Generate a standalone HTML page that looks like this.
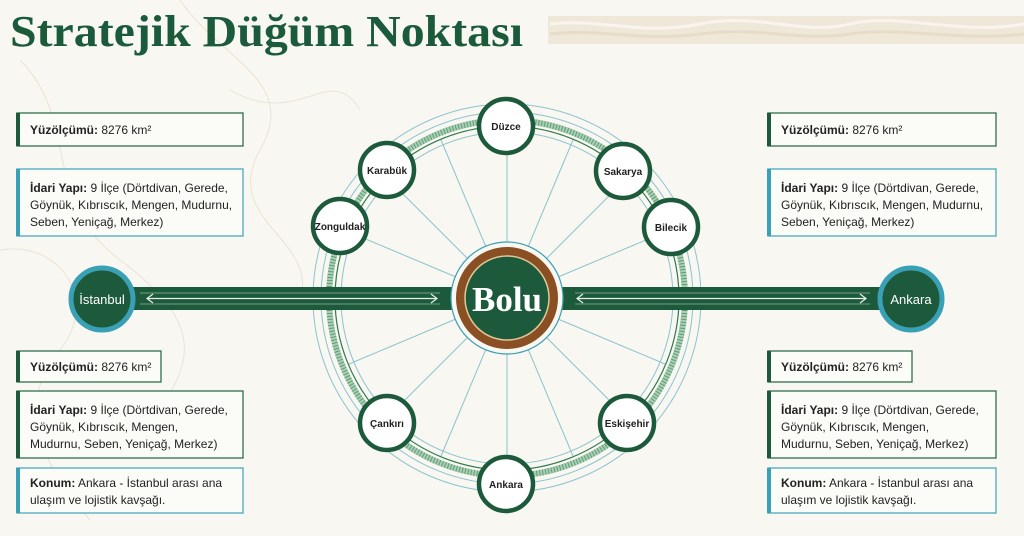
<!DOCTYPE html>
<html><head><meta charset="utf-8"><style>
html,body{margin:0;padding:0;background:#f8f7f1;}
svg{display:block}
.b{font-family:"Liberation Sans",sans-serif;font-size:12px;fill:#222}
.n{font-family:"Liberation Sans",sans-serif;font-size:10px;font-weight:bold;fill:#222;text-anchor:middle}
</style></head><body>
<svg width="1024" height="536" viewBox="0 0 1024 536">
<rect width="1024" height="536" fill="#f8f7f1"/>
<g fill="none" stroke="#ece3d2" stroke-width="1">
<path d="M20 60 C80 120 40 200 120 260 S200 360 150 420"/>
<path d="M180 0 C220 60 300 80 260 150 S320 240 300 300"/>
<path d="M0 250 C60 240 100 300 60 350 S30 450 90 520"/>
<path d="M230 90 C300 130 330 60 360 110"/>
</g>
<rect x="548" y="16" width="476" height="28" fill="#efe8d9"/>
<path d="M550 24 C600 18 640 36 700 24 S800 36 850 24 S960 36 1024 24" stroke="#f8f5ee" stroke-width="3" fill="none"/>
<path d="M550 34 C600 28 640 42 700 34 S800 42 850 34 S960 42 1024 34" stroke="#e6dcc8" stroke-width="3" fill="none"/>
<text x="10" y="46" font-family="Liberation Serif,serif" font-weight="bold" font-size="44" fill="#1b5a3a" textLength="513" lengthAdjust="spacingAndGlyphs">Stratejik Düğüm Noktası</text>

<g fill="none">
<circle cx="507" cy="298" r="194" stroke="#8cc3cf" stroke-width="1"/>
<circle cx="507" cy="298" r="186" stroke="#8cc3cf" stroke-width="1"/>
<circle cx="507" cy="298" r="178" stroke="#a9cfb4" stroke-width="6"/>
<circle cx="507" cy="298" r="178" stroke="#2f7a4f" stroke-width="6" stroke-dasharray="1 2" opacity=".6"/>
<circle cx="507" cy="298" r="172" stroke="#2f7a4f" stroke-width="1.2"/>
<circle cx="507" cy="298" r="166" stroke="#8cc3cf" stroke-width="1"/>
</g>
<g stroke="#8cc3cf" stroke-width="1">
<line x1="507" y1="243" x2="507" y2="132"/><line x1="507" y1="353" x2="507" y2="464"/>
<line x1="528" y1="247" x2="573" y2="140"/><line x1="486" y1="247" x2="441" y2="140"/>
<line x1="528" y1="349" x2="573" y2="456"/><line x1="486" y1="349" x2="441" y2="456"/>
<line x1="546" y1="259" x2="630" y2="175"/><line x1="468" y1="259" x2="384" y2="175"/>
<line x1="546" y1="337" x2="630" y2="421"/><line x1="468" y1="337" x2="384" y2="421"/>
<line x1="558" y1="277" x2="665" y2="232"/><line x1="456" y1="277" x2="349" y2="232"/>
<line x1="558" y1="319" x2="665" y2="364"/><line x1="456" y1="319" x2="349" y2="364"/>
</g>

<rect x="130" y="287" width="332" height="23" fill="#1d5a3c"/>
<rect x="552" y="287" width="330" height="23" fill="#1d5a3c"/>
<g stroke="#8fb79f" stroke-width=".8" fill="none">
<line x1="140" y1="293" x2="440" y2="293"/><line x1="140" y1="304" x2="440" y2="304"/>
<line x1="575" y1="293" x2="870" y2="293"/><line x1="575" y1="304" x2="870" y2="304"/>
</g>
<g stroke="#e6efe8" stroke-width="1.2" fill="none">
<line x1="147" y1="298.5" x2="437" y2="298.5"/><path d="M153 294 L147 298.5 L153 303 M431 294 L437 298.5 L431 303"/>
<line x1="577" y1="298.5" x2="866" y2="298.5"/><path d="M583 294 L577 298.5 L583 303 M860 294 L866 298.5 L860 303"/>
</g>

<circle cx="102" cy="299" r="31" fill="#1d5a3c" stroke="#3aa0b5" stroke-width="5"/>
<circle cx="911" cy="299" r="31" fill="#1d5a3c" stroke="#3aa0b5" stroke-width="5"/>
<text x="102" y="304" font-family="Liberation Sans,sans-serif" font-size="13" fill="#fff" text-anchor="middle">İstanbul</text>
<text x="911" y="304" font-family="Liberation Sans,sans-serif" font-size="13" fill="#fff" text-anchor="middle">Ankara</text>

<circle cx="507" cy="298" r="56" fill="#f8f7f1" stroke="#3aa0b5" stroke-width="1.2"/>
<circle cx="507" cy="298" r="51" fill="#8a4f22"/>
<circle cx="507" cy="298" r="42" fill="#1d5a3c" stroke="#e0c89a" stroke-width="1.5"/>
<text x="507" y="311" font-family="Liberation Serif,serif" font-weight="bold" font-size="35" fill="#fff" text-anchor="middle">Bolu</text>

<g fill="#fff" stroke="#1d5a3c" stroke-width="4.5">
<circle cx="506" cy="126" r="27"/><circle cx="387" cy="170" r="27"/><circle cx="623" cy="171" r="27"/>
<circle cx="340" cy="226" r="27"/><circle cx="671" cy="227" r="27"/>
<circle cx="387" cy="423" r="27"/><circle cx="627" cy="423" r="27"/><circle cx="506" cy="484" r="27"/>
</g>
<text class="n" x="506" y="130">Düzce</text><text class="n" x="387" y="174">Karabük</text>
<text class="n" x="623" y="175">Sakarya</text><text class="n" x="340" y="230" font-size="9">Zonguldak</text>
<text class="n" x="671" y="231">Bilecik</text><text class="n" x="387" y="427">Çankırı</text>
<text class="n" x="627" y="427" font-size="9.5">Eskişehir</text><text class="n" x="506" y="488">Ankara</text>

<g fill="#fbfbf8" stroke="#2f6e4c" stroke-width="1.3">
<rect x="17" y="113" width="226" height="33"/>
<rect x="768" y="113" width="228" height="33"/>
<rect x="17" y="351" width="144" height="31"/>
<rect x="768" y="351" width="144" height="31"/>
<rect x="17" y="391" width="226" height="67"/>
<rect x="768" y="391" width="228" height="67"/>
</g>
<g fill="#fbfbf8" stroke="#4aa9bd" stroke-width="1.3">
<rect x="17" y="169" width="226" height="67"/>
<rect x="768" y="169" width="228" height="67"/>
<rect x="17" y="468" width="226" height="45"/>
<rect x="768" y="468" width="228" height="45"/>
</g>
<g fill="#1d5a3c">
<rect x="16" y="113" width="4" height="33"/><rect x="767" y="113" width="4" height="33"/>
<rect x="16" y="351" width="4" height="31"/><rect x="767" y="351" width="4" height="31"/>
<rect x="16" y="391" width="4" height="67"/><rect x="767" y="391" width="4" height="67"/>
</g>
<g fill="#3aa0b5">
<rect x="16" y="169" width="4" height="67"/><rect x="767" y="169" width="4" height="67"/>
<rect x="16" y="468" width="4" height="45"/><rect x="767" y="468" width="4" height="45"/>
</g>

<g class="b">
<text x="30" y="134"><tspan font-weight="bold">Yüzölçümü:</tspan> 8276 km²</text>
<text x="30" y="192"><tspan font-weight="bold">İdari Yapı:</tspan> 9 İlçe (Dörtdivan, Gerede,</text>
<text x="30" y="209">Göynük, Kıbrıscık, Mengen, Mudurnu,</text>
<text x="30" y="226">Seben, Yeniçağ, Merkez)</text>
<text x="781" y="134"><tspan font-weight="bold">Yüzölçümü:</tspan> 8276 km²</text>
<text x="781" y="192"><tspan font-weight="bold">İdari Yapı:</tspan> 9 İlçe (Dörtdivan, Gerede,</text>
<text x="781" y="209">Göynük, Kıbrıscık, Mengen, Mudurnu,</text>
<text x="781" y="226">Seben, Yeniçağ, Merkez)</text>

<text x="30" y="371"><tspan font-weight="bold">Yüzölçümü:</tspan> 8276 km²</text>
<text x="30" y="414"><tspan font-weight="bold">İdari Yapı:</tspan> 9 İlçe (Dörtdivan, Gerede,</text>
<text x="30" y="431">Göynük, Kıbrıscık, Mengen,</text>
<text x="30" y="448">Mudurnu, Seben, Yeniçağ, Merkez)</text>
<text x="30" y="487"><tspan font-weight="bold">Konum:</tspan> Ankara - İstanbul arası ana</text>
<text x="30" y="504">ulaşım ve lojistik kavşağı.</text>

<text x="781" y="371"><tspan font-weight="bold">Yüzölçümü:</tspan> 8276 km²</text>
<text x="781" y="414"><tspan font-weight="bold">İdari Yapı:</tspan> 9 İlçe (Dörtdivan, Gerede,</text>
<text x="781" y="431">Göynük, Kıbrıscık, Mengen,</text>
<text x="781" y="448">Mudurnu, Seben, Yeniçağ, Merkez)</text>
<text x="781" y="487"><tspan font-weight="bold">Konum:</tspan> Ankara - İstanbul arası ana</text>
<text x="781" y="504">ulaşım ve lojistik kavşağı.</text>
</g>
</svg>
</body></html>
